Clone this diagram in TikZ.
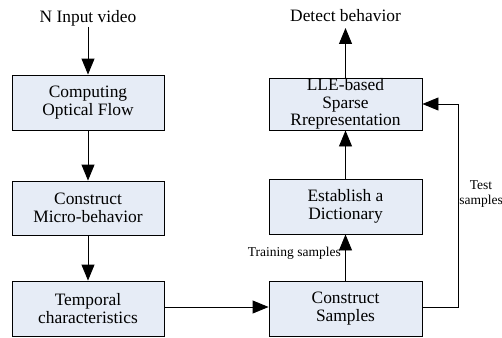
\documentclass[tikz,border=0pt]{standalone}
\usepackage{fontspec}
\setmainfont{Liberation Serif}
\usetikzlibrary{arrows.meta}
\definecolor{boxfill}{RGB}{230,236,246}
\tikzset{
  procbox/.style={draw=black, line width=0.9pt, fill=boxfill, align=center,
    minimum width=152pt, minimum height=55pt, inner sep=0pt,
    font=\fontsize{17.4pt}{17.8pt}\selectfont},
  lbl/.style={inner sep=0pt, font=\fontsize{17.4pt}{17.8pt}\selectfont},
  small/.style={inner sep=0pt, align=center, font=\fontsize{13.5pt}{15pt}\selectfont},
  conn/.style={draw=black, line width=0.9pt, -{Triangle[width=13pt,length=16pt]}}
}
\begin{document}
\begin{tikzpicture}[x=1pt,y=-1pt]
\useasboundingbox (0,0) rectangle (502,337);
% left column
\node[lbl] (input) at (88,18) {N Input video};
\node[procbox] (flow) at (88,102.5) {Computing\\Optical Flow};
\node[procbox, minimum height=54pt] (micro) at (88,208) {Construct\\Micro-behavior};
\node[procbox] (temp) at (88,308.5) {Temporal\\characteristics};
% right column
\node[lbl] (detect) at (345.5,16) {Detect behavior};
\node[procbox, minimum width=153pt, minimum height=52pt] (lle) at (345.5,104) {LLE-based\\Sparse\\Rrepresentation};
\node[procbox, minimum width=153pt] (dict) at (345.5,206.5) {Establish a\\Dictionary};
\node[procbox, minimum width=153pt] (samp) at (345.5,308.5) {Construct\\Samples};
% labels
\node[small, anchor=east] (train) at (341,253) {Training samples};
\node[small] (test) at (481,194.5) {Test\\samples};
% connectors
\coordinate (inS) at (88,27);
\coordinate (detE) at (345.5,28);
\draw[conn] (inS) -- (flow.north);
\draw[conn] (flow.south) -- (micro.north);
\draw[conn] (micro.south) -- (temp.north);
\draw[conn] (temp.east |- 0,307) -- (samp.west |- 0,307);
\draw[conn] (samp.north) -- (dict.south);
\draw[conn] (dict.north) -- (lle.south);
\draw[conn] (lle.north) -- (detE);
\coordinate (tr1) at (458,307);
\coordinate (tr2) at (458,104);
\draw[conn] (samp.east |- tr1) -- (tr1) -- (tr2) -- (lle.east |- tr2);
\end{tikzpicture}
\end{document}
